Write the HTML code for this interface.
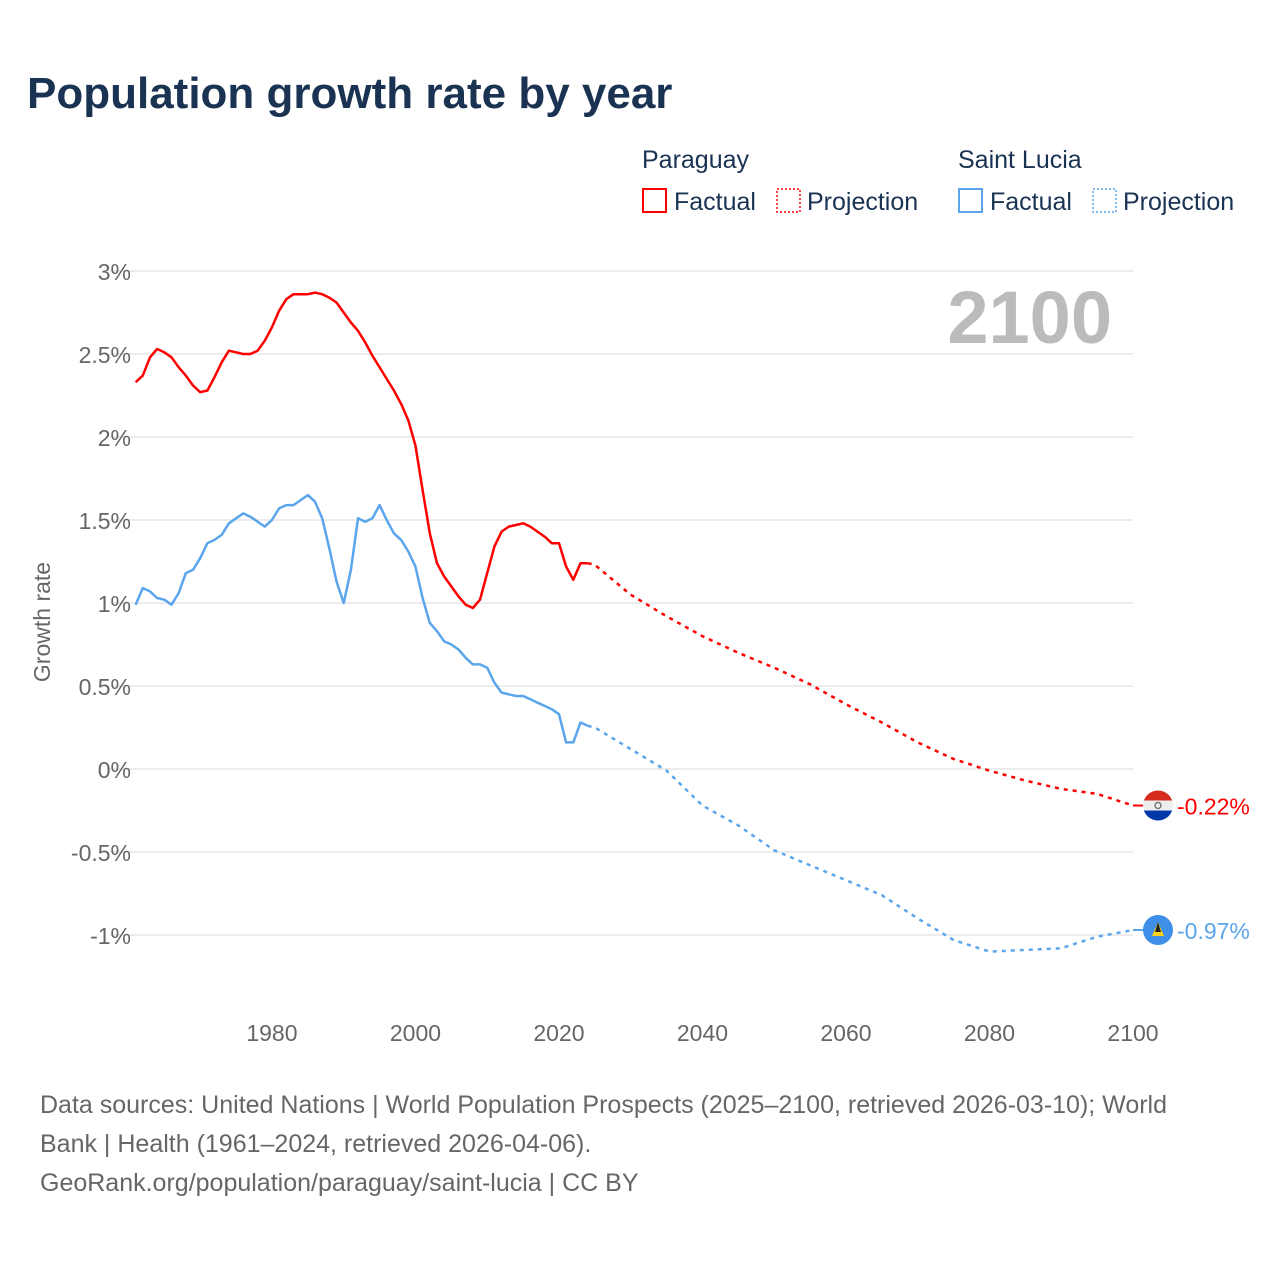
<!DOCTYPE html>
<html><head><meta charset="utf-8"><style>
body{margin:0;width:1280px;height:1280px;background:#fff;font-family:"Liberation Sans",sans-serif;overflow:hidden}
.t{position:absolute}
</style></head><body>
<div class="t" style="left:27px;top:69px;font-size:44px;font-weight:bold;color:#1a3352">Population growth rate by year</div>
<svg width="1280" height="1280" style="position:absolute;left:0;top:0" id="chart">
<g id="legend" font-size="25" fill="#1a3352">
 <text x="642" y="168">Paraguay</text>
 <rect x="643" y="189" width="23" height="23" fill="none" stroke="#f00" stroke-width="2"/>
 <text x="674" y="210">Factual</text>
 <rect x="777" y="189" width="23" height="23" fill="none" stroke="#f00" stroke-width="1.5" stroke-dasharray="2,2"/>
 <text x="807" y="210">Projection</text>
 <text x="958" y="168">Saint Lucia</text>
 <rect x="959" y="189" width="23" height="23" fill="none" stroke="#5aa5ec" stroke-width="2"/>
 <text x="990" y="210">Factual</text>
 <rect x="1093" y="189" width="23" height="23" fill="none" stroke="#5aa5ec" stroke-width="1.5" stroke-dasharray="2,2"/>
 <text x="1123" y="210">Projection</text>
</g>
<text x="1112" y="343" text-anchor="end" font-size="74" font-weight="bold" fill="#bbb">2100</text>
<text transform="translate(50,622) rotate(-90)" text-anchor="middle" font-size="23" fill="#666">Growth rate</text>
<g id="grid"></g><g id="series"></g>
</svg>
<div class="t" style="left:40px;top:1086px;width:1175px;font-size:25px;line-height:39px;color:#666">Data sources: United Nations | World Population Prospects (2025–2100, retrieved 2026-03-10); World Bank | Health (1961–2024, retrieved 2026-04-06).<br>GeoRank.org/population/paraguay/saint-lucia | CC BY</div>
<script>
const yTicks=[3,2.5,2,1.5,1,0.5,0,-0.5,-1];
const yTickLabels=["3%","2.5%","2%","1.5%","1%","0.5%","0%","-0.5%","-1%"];
const xTicks=[1980,2000,2020,2040,2060,2080,2100];
const factYears=[];for(let y=1961;y<=2024;y++)factYears.push(y);
const paraguayFact=[2.33,2.37,2.48,2.53,2.51,2.48,2.42,2.37,2.31,2.27,2.28,2.36,2.45,2.52,2.51,2.50,2.50,2.52,2.58,2.66,2.76,2.83,2.86,2.86,2.86,2.87,2.86,2.84,2.81,2.75,2.69,2.64,2.57,2.49,2.42,2.35,2.28,2.20,2.10,1.95,1.68,1.42,1.24,1.16,1.10,1.04,0.99,0.97,1.02,1.18,1.34,1.43,1.46,1.47,1.48,1.46,1.43,1.40,1.36,1.36,1.22,1.14,1.24,1.24];
const stluciaFact=[0.99,1.09,1.07,1.03,1.02,0.99,1.06,1.18,1.20,1.27,1.36,1.38,1.41,1.48,1.51,1.54,1.52,1.49,1.46,1.50,1.57,1.59,1.59,1.62,1.65,1.61,1.51,1.33,1.13,1.00,1.20,1.51,1.49,1.51,1.59,1.50,1.42,1.38,1.31,1.22,1.03,0.88,0.83,0.77,0.75,0.72,0.67,0.63,0.63,0.61,0.52,0.46,0.45,0.44,0.44,0.42,0.40,0.38,0.36,0.33,0.16,0.16,0.28,0.26];
const projYears=[2024,2025,2030,2035,2040,2045,2050,2055,2060,2065,2070,2075,2080,2085,2090,2095,2100];
const paraguayProj=[1.24,1.23,1.05,0.92,0.80,0.70,0.61,0.51,0.39,0.28,0.16,0.06,-0.01,-0.07,-0.12,-0.15,-0.22];
const stluciaProj=[0.26,0.25,0.12,-0.01,-0.22,-0.34,-0.49,-0.58,-0.67,-0.76,-0.90,-1.03,-1.10,-1.09,-1.08,-1.01,-0.97];
const X=yr=>135.6+(yr-1961)*(1133-135.6)/139;
const Y=v=>769-v*166;
const NS="http://www.w3.org/2000/svg";
function mk(tag,attrs,parent,txt){const e=document.createElementNS(NS,tag);for(const k in attrs)e.setAttribute(k,attrs[k]);if(txt!==undefined)e.textContent=txt;parent.appendChild(e);return e;}
const grid=document.getElementById('grid'),ser=document.getElementById('series');
yTicks.forEach((v,i)=>{
 const l=mk('line',{x1:110,x2:1133,y1:Y(v),y2:Y(v),stroke:'#e6e6e6','stroke-width':1.5},grid);
 
 
 const t=mk('text',{x:131,y:Y(v)+9,'text-anchor':'end','font-size':23,fill:'#666'},grid,yTickLabels[i]);
 
 
});
xTicks.forEach(yr=>{
 const t=mk('text',{x:X(yr),y:1041,'text-anchor':'middle','font-size':23,fill:'#666'},grid,String(yr));
 
 
});
function pts(xs,vs){return xs.map((x,i)=>X(x).toFixed(1)+','+Y(vs[i]).toFixed(1)).join(' ');}
const s=[[paraguayFact,factYears,'#f00',null,'paraguay-factual-line'],[paraguayProj,projYears,'#f00','4,5','paraguay-projection-line'],[stluciaFact,factYears,'#5aa5ec',null,'saint-lucia-factual-line'],[stluciaProj,projYears,'#5aa5ec','4,5','saint-lucia-projection-line']];
s.forEach(([vs,xs,c,d,n])=>{
 const a={points:pts(xs,vs),fill:'none',stroke:c,'stroke-width':2.5,'stroke-linejoin':'round'};if(d)a['stroke-dasharray']=d;
 const p=mk('polyline',a,ser);
 
 
});
const pv=paraguayProj[paraguayProj.length-1],sv=stluciaProj[stluciaProj.length-1];
const g1=mk('g',{},ser);


mk('line',{x1:X(2100),x2:1145,y1:Y(pv),y2:Y(pv),stroke:'#f00','stroke-width':2},g1);
mk('clipPath',{id:'c1'},g1);mk('circle',{cx:1158,cy:Y(pv),r:15},g1.lastChild);
const fg=mk('g',{'clip-path':'url(#c1)'},g1);
mk('rect',{x:1143,y:Y(pv)-15,width:30,height:10,fill:'#d52b1e'},fg);
mk('rect',{x:1143,y:Y(pv)-5,width:30,height:10,fill:'#eee'},fg);
mk('rect',{x:1143,y:Y(pv)+5,width:30,height:10,fill:'#0038a8'},fg);
mk('circle',{cx:1158,cy:Y(pv),r:3,fill:'none',stroke:'#777','stroke-width':1.5},g1);
const t1=mk('text',{x:1177,y:Y(pv)+9,'font-size':23,fill:'#f00'},ser,'-0.22%');


const g2=mk('g',{},ser);


mk('line',{x1:X(2100),x2:1145,y1:Y(sv),y2:Y(sv),stroke:'#5aa5ec','stroke-width':2},g2);
mk('circle',{cx:1158,cy:Y(sv),r:15,fill:'#3d8fe8'},g2);
mk('polygon',{points:`1158,${Y(sv)-8} 1152,${Y(sv)+6} 1164,${Y(sv)+6}`,fill:'#fcd116'},g2);
mk('polygon',{points:`1158,${Y(sv)-8} 1155,${Y(sv)+2} 1161,${Y(sv)+2}`,fill:'#222'},g2);
const t2=mk('text',{x:1177,y:Y(sv)+9,'font-size':23,fill:'#5aa5ec'},ser,'-0.97%');


</script>
</body></html>
